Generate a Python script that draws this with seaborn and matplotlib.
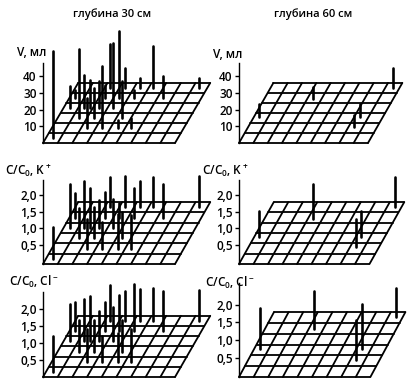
import pandas as pd
import seaborn as sns
import matplotlib.pyplot as plt

# sampling points on the plot plane (column, row)
left_col = [0.48, 2.4, 3.45, 4.5, 5.4, 1.45, 2.5, 4.4, 0.45, 1.4, 1.8, 2.4,
            3.4, 0.36, 3.4, 4.4, 6.4, 2.4, 3.4, 4.4, 5.3, 8.4, 2.45]
left_row = [0.5, 1.5, 1.5, 1.5, 1.5, 2.5, 2.5, 2.5, 3.5, 3.5, 3.5, 3.5,
            3.5, 4.5, 4.5, 4.5, 4.5, 5.5, 5.5, 5.5, 5.5, 5.5, 4.5]
right_col = [0.37, 3.37, 7.4, 7.4, 8.56]
right_row = [2.6, 4.4, 2.6, 1.6, 5.5]

v_30 = [52, 18, 37, 5, 6, 41, 18, 22, 13, 20, 17, 16, 39, 5, 40, 5, 13, 26, 12, 6, 25, 6, 8]
k_30 = [0.96, 0.9, 0.8, 1.05, 1.0, 0.9, 0.93, 0.8, 1.32, 1.4, 1.2, 0.85,
        0.87, 0.75, 0.45, 0.9, 1.0, 0.9, 0.95, 0.8, 0.9, 0.95, 0.78]
cl_30 = [1.05, 0.95, 0.75, 0.85, 0.95, 0.93, 0.93, 0.92, 1.1, 1.23, 1.33, 0.9,
         1.0, 0.85, 1.05, 1.38, 1.17, 1.07, 0.88, 0.95, 0.98, 0.91, 0.87]
v_60 = [8, 7, 8, 7, 12]
k_60 = [0.8, 1.03, 0.8, 0.85, 0.9]
cl_60 = [1.15, 1.07, 1.26, 1.11, 0.83]

v_ticks = [10, 20, 30, 40]
v_ticklabels = ['10', '20', '30', '40']
c_ticks = [0.5, 1.0, 1.5, 2.0]
c_ticklabels = ['0,5', '1,0', '1,5', '2,0']

titles = ['глубина 30 см', 'глубина 60 см']
v_label = 'V, мл'
k_label = 'C/C$_0$, K$^+$'
cl_label = 'C/C$_0$, Cl$^-$'

N_COLS = 9
N_ROWS = 6
SHEAR = 0.4

sns.set_theme(style='white')
plt.rcParams['font.family'] = ['Open Sans', 'DejaVu Sans']
plt.rcParams['font.weight'] = 'semibold'
plt.rcParams['mathtext.default'] = 'regular'

W, H = 414, 390
fig = plt.figure(figsize=(W / 100, H / 100), dpi=100)


def plane_x(col, row):
    return col + SHEAR * row


def draw_panel(x0, y0, cell, scale, row_h, base, axis_top, cols, rows, vals, ticks, ticklabels):
    # x0, y0 = pixel of the plane's near corner, scale = pixels per value unit
    top_px = 8
    ax = fig.add_axes([x0 / W, 1 - y0 / H, 170 / W, (y0 - top_px) / H])
    ax.patch.set_alpha(0)

    grid = []
    for r in range(N_ROWS + 1):
        for c in (0, N_COLS):
            grid.append({'id': 'r%d' % r, 'x': plane_x(c, r), 'y': base + r * row_h})
    for c in range(N_COLS + 1):
        for r in (0, N_ROWS):
            grid.append({'id': 'c%d' % c, 'x': plane_x(c, r), 'y': base + r * row_h})
    grid = pd.DataFrame(grid)
    sns.lineplot(data=grid, x='x', y='y', units='id', estimator=None, sort=False,
                 color='black', lw=1.3, legend=False, ax=ax)

    spikes = []
    for i, (c, r, v) in enumerate(zip(cols, rows, vals)):
        y_foot = base + r * row_h
        spikes.append({'id': i, 'x': plane_x(c, r), 'y': y_foot})
        spikes.append({'id': i, 'x': plane_x(c, r), 'y': y_foot + v})
    spikes = pd.DataFrame(spikes)
    sns.lineplot(data=spikes, x='x', y='y', units='id', estimator=None, sort=False,
                 color='black', lw=1.9, legend=False, ax=ax)

    ax.set_xlim(0, 170 / cell)
    ax.set_ylim(base, base + (y0 - top_px) / scale)
    ax.set_xlabel('')
    ax.set_ylabel('')
    ax.set_xticks([])
    ax.set_yticks(ticks)
    ax.set_yticklabels(ticklabels, fontsize=8.5, color='black')
    ax.tick_params(axis='y', left=True, length=3, width=1, pad=1.5, color='black')
    for side in ['top', 'right', 'bottom']:
        ax.spines[side].set_visible(False)
    ax.spines['left'].set_color('black')
    ax.spines['left'].set_linewidth(1)
    ax.spines['left'].set_bounds(base, axis_top)
    for line in ax.lines:
        line.set_clip_on(False)
    return ax


draw_panel(43, 143, 14.67, 1.67, 6.0, 0, 48, left_col, left_row, v_30, v_ticks, v_ticklabels)
draw_panel(43, 264, 14.67, 33.3, 0.31, -0.07, 2.45, left_col, left_row, k_30, c_ticks, c_ticklabels)
draw_panel(43, 377, 14.67, 34.0, 0.30, 0, 2.5, left_col, left_row, cl_30, c_ticks, c_ticklabels)
draw_panel(239, 143, 14.33, 1.67, 6.0, 0, 48, right_col, right_row, v_60, v_ticks, v_ticklabels)
draw_panel(239, 264, 14.5, 33.3, 0.31, -0.07, 2.45, right_col, right_row, k_60, c_ticks, c_ticklabels)
draw_panel(239, 377, 14.6, 35.5, 0.305, -0.04, 2.6, right_col, right_row, cl_60, c_ticks, c_ticklabels)


def px_text(x, y, s, size=8.5):
    fig.text(x / W, 1 - y / H, s, ha='center', va='center', fontsize=size, color='black')


px_text(112, 14, titles[0], 8)
px_text(313, 14, titles[1], 8)
px_text(32, 52, v_label)
px_text(228, 54, v_label)
px_text(28, 172, k_label)
px_text(225, 172, k_label)
px_text(34, 282, cl_label)
px_text(230, 283, cl_label)

fig.savefig('out.png', dpi=100)
